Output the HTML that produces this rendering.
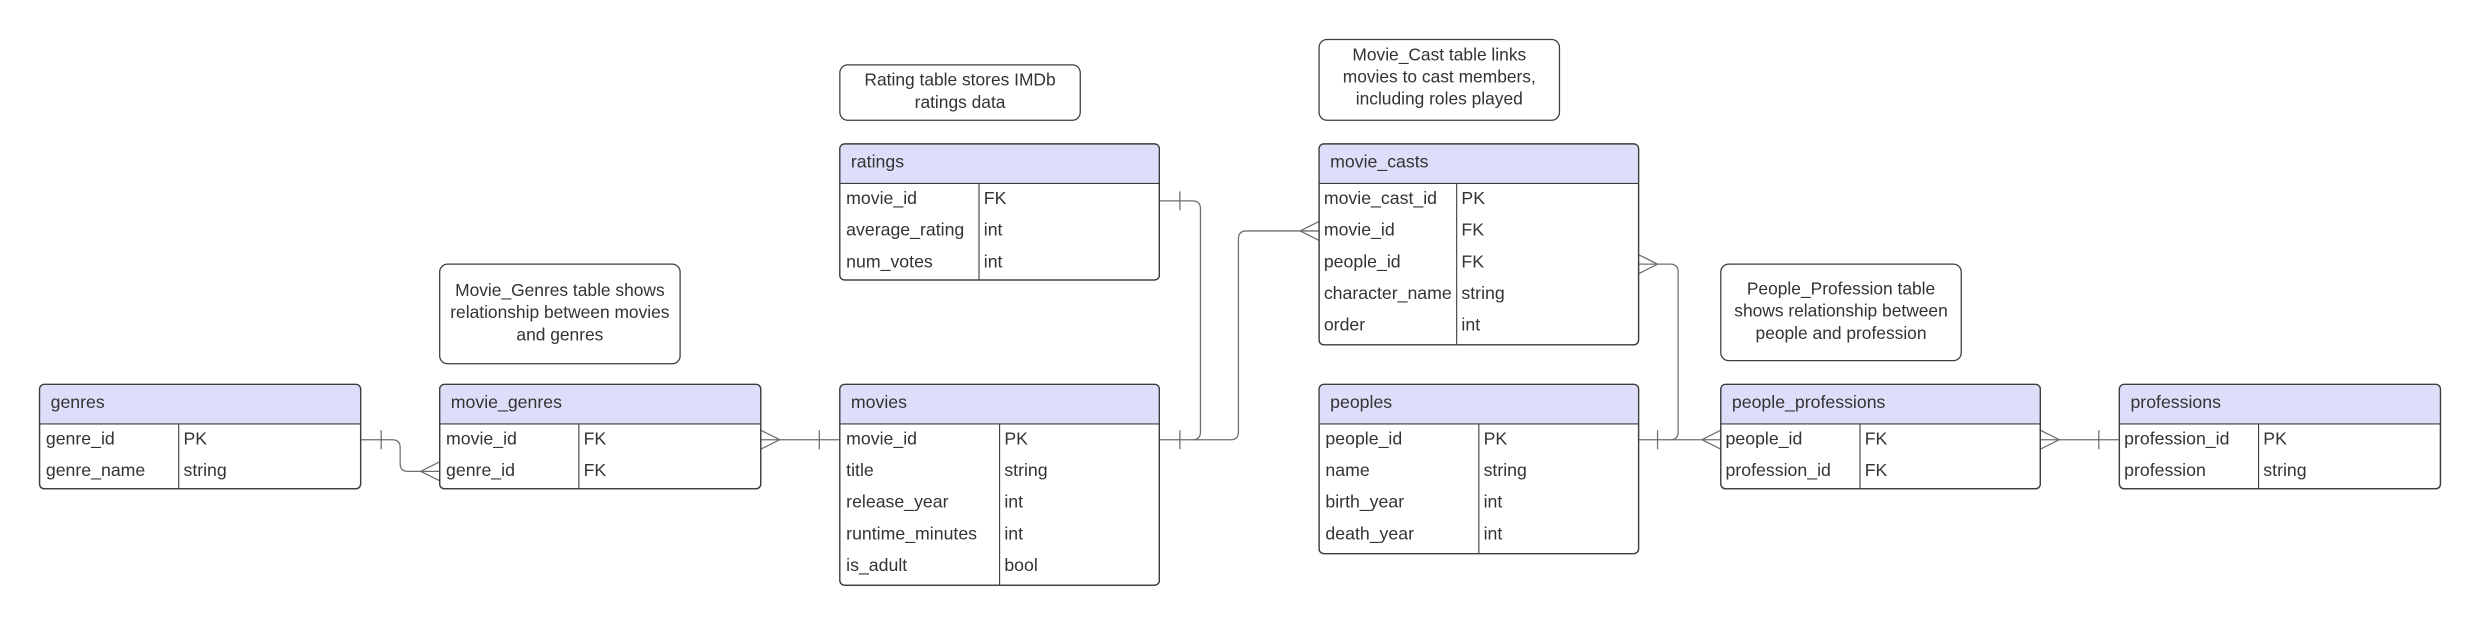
<!DOCTYPE html>
<html><head><meta charset="utf-8"><style>
html,body{margin:0;padding:0;background:#fff;}
svg{display:block;}
text{font-family:"Liberation Sans",sans-serif;font-size:11.2px;fill:#333;}
.b{fill:#fff;stroke:#3d3d3d;stroke-width:0.8;}
.h{fill:#dedefa;}
.l{stroke:#3d3d3d;stroke-width:0.7;fill:none;}
.c{stroke:#6f6f6f;stroke-width:0.8;fill:none;}
.n{font-size:11px;text-anchor:middle;}
</style></head><body>
<svg width="2480" height="624" viewBox="0 0 1568 394.5" preserveAspectRatio="none" xmlns="http://www.w3.org/2000/svg">
<g class="c">
 <path d="M228,278 H248 q5,0 5,5 V293 q0,5 5,5 H278"/>
 <path d="M241,272 V284"/>
 <path d="M266,298 L278,292 M266,298 L278,304"/>
 <path d="M481,278 H531"/>
 <path d="M493,278 L481,272 M493,278 L481,284"/>
 <path d="M518,272 V284"/>
 <path d="M733,278 H754 q5,0 5,-5 V132 q0,-5 -5,-5 H733"/>
 <path d="M746,272 V284 M746,121 V133"/>
 <path d="M754,278 H778 q5,0 5,-5 V151 q0,-5 5,-5 H834"/>
 <path d="M822,146 L834,140 M822,146 L834,152"/>
 <path d="M1036,167 H1056 q5,0 5,5 V273 q0,5 -5,5 H1036"/>
 <path d="M1048,167 L1036,161 M1048,167 L1036,173"/>
 <path d="M1048,272 V284"/>
 <path d="M1056,278 H1088"/>
 <path d="M1076,278 L1088,272 M1076,278 L1088,284"/>
 <path d="M1290,278 H1340"/>
 <path d="M1302,278 L1290,272 M1302,278 L1290,284"/>
 <path d="M1327,272 V284"/>
</g>

<g transform="translate(0,-0.8)">
<rect class="b" x="531" y="41.8" width="152" height="35" rx="5"/>
<text class="n" x="607" y="55">Rating table stores IMDb</text>
<text class="n" x="607" y="69">ratings data</text>
<rect class="b" x="834" y="25.8" width="152" height="51" rx="5"/>
<text class="n" x="910" y="39">Movie_Cast table links</text>
<text class="n" x="910" y="53">movies to cast members,</text>
<text class="n" x="910" y="67">including roles played</text>
<rect class="b" x="278" y="167.8" width="152" height="63" rx="5"/>
<text class="n" x="354" y="188">Movie_Genres table shows</text>
<text class="n" x="354" y="202">relationship between movies</text>
<text class="n" x="354" y="216">and genres</text>
<rect class="b" x="1088" y="167.8" width="152" height="61" rx="5"/>
<text class="n" x="1164" y="187">People_Profession table</text>
<text class="n" x="1164" y="201">shows relationship between</text>
<text class="n" x="1164" y="215">people and profession</text>
</g>

<g>
 <rect class="b" x="25" y="243" width="203" height="66" rx="3"/>
 <path class="h" d="M25.4,268 V246 q0,-2.6 2.6,-2.6 H225 q2.6,0 2.6,2.6 V268 Z"/>
 <rect class="b" x="25" y="243" width="203" height="66" rx="3" style="fill:none"/>
 <path class="l" d="M25,268 H228 M113,268 V309"/>
 <text x="32" y="258">genres</text>
 <text x="29" y="281">genre_id</text><text x="116" y="281">PK</text>
 <text x="29" y="301">genre_name</text><text x="116" y="301">string</text>
</g>
<g>
 <rect class="b" x="278" y="243" width="203" height="66" rx="3"/>
 <path class="h" d="M278.4,268 V246 q0,-2.6 2.6,-2.6 H478 q2.6,0 2.6,2.6 V268 Z"/>
 <rect class="b" x="278" y="243" width="203" height="66" rx="3" style="fill:none"/>
 <path class="l" d="M278,268 H481 M366,268 V309"/>
 <text x="285" y="258">movie_genres</text>
 <text x="282" y="281">movie_id</text><text x="369" y="281">FK</text>
 <text x="282" y="301">genre_id</text><text x="369" y="301">FK</text>
</g>
<g>
 <rect class="b" x="531" y="243" width="202" height="127" rx="3"/>
 <path class="h" d="M531.4,268 V246 q0,-2.6 2.6,-2.6 H730 q2.6,0 2.6,2.6 V268 Z"/>
 <rect class="b" x="531" y="243" width="202" height="127" rx="3" style="fill:none"/>
 <path class="l" d="M531,268 H733 M632,268 V370"/>
 <text x="538" y="258">movies</text>
 <text x="535" y="281">movie_id</text><text x="635" y="281">PK</text>
 <text x="535" y="301">title</text><text x="635" y="301">string</text>
 <text x="535" y="321">release_year</text><text x="635" y="321">int</text>
 <text x="535" y="341">runtime_minutes</text><text x="635" y="341">int</text>
 <text x="535" y="361">is_adult</text><text x="635" y="361">bool</text>
</g>
<g>
 <rect class="b" x="531" y="91" width="202" height="86" rx="3"/>
 <path class="h" d="M531.4,116 V94 q0,-2.6 2.6,-2.6 H730 q2.6,0 2.6,2.6 V116 Z"/>
 <rect class="b" x="531" y="91" width="202" height="86" rx="3" style="fill:none"/>
 <path class="l" d="M531,116 H733 M619,116 V177"/>
 <text x="538" y="106">ratings</text>
 <text x="535" y="129">movie_id</text><text x="622" y="129">FK</text>
 <text x="535" y="149">average_rating</text><text x="622" y="149">int</text>
 <text x="535" y="169">num_votes</text><text x="622" y="169">int</text>
</g>
<g>
 <rect class="b" x="834" y="91" width="202" height="127" rx="3"/>
 <path class="h" d="M834.4,116 V94 q0,-2.6 2.6,-2.6 H1033 q2.6,0 2.6,2.6 V116 Z"/>
 <rect class="b" x="834" y="91" width="202" height="127" rx="3" style="fill:none"/>
 <path class="l" d="M834,116 H1036 M921,116 V218"/>
 <text x="841" y="106">movie_casts</text>
 <text x="837" y="129">movie_cast_id</text><text x="924" y="129">PK</text>
 <text x="837" y="149">movie_id</text><text x="924" y="149">FK</text>
 <text x="837" y="169">people_id</text><text x="924" y="169">FK</text>
 <text x="837" y="189">character_name</text><text x="924" y="189">string</text>
 <text x="837" y="209">order</text><text x="924" y="209">int</text>
</g>
<g>
 <rect class="b" x="834" y="243" width="202" height="107" rx="3"/>
 <path class="h" d="M834.4,268 V246 q0,-2.6 2.6,-2.6 H1033 q2.6,0 2.6,2.6 V268 Z"/>
 <rect class="b" x="834" y="243" width="202" height="107" rx="3" style="fill:none"/>
 <path class="l" d="M834,268 H1036 M935,268 V350"/>
 <text x="841" y="258">peoples</text>
 <text x="838" y="281">people_id</text><text x="938" y="281">PK</text>
 <text x="838" y="301">name</text><text x="938" y="301">string</text>
 <text x="838" y="321">birth_year</text><text x="938" y="321">int</text>
 <text x="838" y="341">death_year</text><text x="938" y="341">int</text>
</g>
<g>
 <rect class="b" x="1088" y="243" width="202" height="66" rx="3"/>
 <path class="h" d="M1088.4,268 V246 q0,-2.6 2.6,-2.6 H1287 q2.6,0 2.6,2.6 V268 Z"/>
 <rect class="b" x="1088" y="243" width="202" height="66" rx="3" style="fill:none"/>
 <path class="l" d="M1088,268 H1290 M1176,268 V309"/>
 <text x="1095" y="258">people_professions</text>
 <text x="1091" y="281">people_id</text><text x="1179" y="281">FK</text>
 <text x="1091" y="301">profession_id</text><text x="1179" y="301">FK</text>
</g>
<g>
 <rect class="b" x="1340" y="243" width="203" height="66" rx="3"/>
 <path class="h" d="M1340.4,268 V246 q0,-2.6 2.6,-2.6 H1540 q2.6,0 2.6,2.6 V268 Z"/>
 <rect class="b" x="1340" y="243" width="203" height="66" rx="3" style="fill:none"/>
 <path class="l" d="M1340,268 H1543 M1428,268 V309"/>
 <text x="1347" y="258">professions</text>
 <text x="1343" y="281">profession_id</text><text x="1431" y="281">PK</text>
 <text x="1343" y="301">profession</text><text x="1431" y="301">string</text>
</g>
</svg>
</body></html>
